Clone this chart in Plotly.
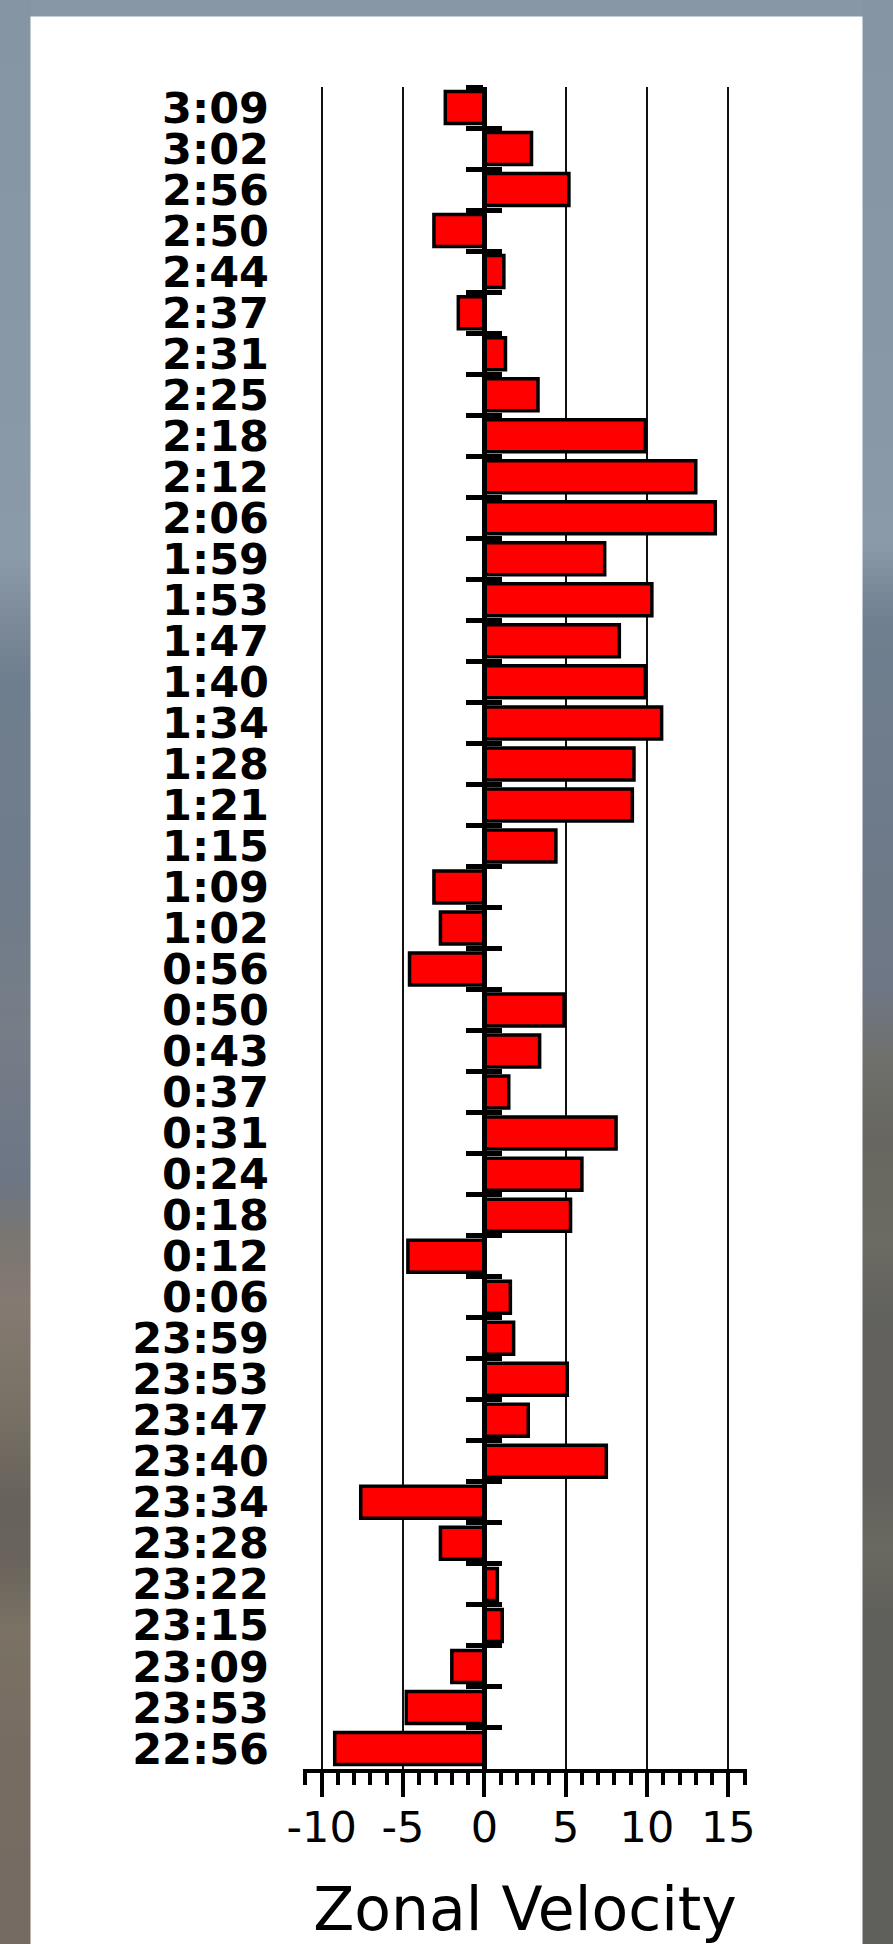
import plotly.graph_objects as go

# Sounding times, listed top to bottom as they appear on the axis
times = ["3:09", "3:02", "2:56", "2:50", "2:44", "2:37", "2:31", "2:25", "2:18",
         "2:12", "2:06", "1:59", "1:53", "1:47", "1:40", "1:34", "1:28", "1:21",
         "1:15", "1:09", "1:02", "0:56", "0:50", "0:43", "0:37", "0:31", "0:24",
         "0:18", "0:12", "0:06", "23:59", "23:53", "23:47", "23:40", "23:34",
         "23:28", "23:22", "23:15", "23:09", "23:53", "22:56"]

# Zonal velocity for each time
velocity = [-2.4, 2.9, 5.2, -3.1, 1.2, -1.6, 1.3, 3.3, 9.9, 13.0, 14.2, 7.4,
            10.3, 8.3, 9.9, 10.9, 9.2, 9.1, 4.4, -3.1, -2.7, -4.6, 4.9, 3.4,
            1.5, 8.1, 6.0, 5.3, -4.7, 1.6, 1.8, 5.1, 2.7, 7.5, -7.6, -2.7,
            0.8, 1.1, -2.0, -4.8, -9.2]

x_ticks = [-10, -5, 0, 5, 10, 15]
x_tick_labels = ["-10", "-5", "0", "5", "10", "15"]
x_range = [-11.15, 16.15]

n = len(times)
rows = [n - 1 - i for i in range(n)]          # first time at the top
row_edges = [r + 0.5 for r in rows]           # separators above each bar
y_range = [-0.5, n - 0.5]

W, H = 893, 1944
ML, MR, MT, MB = 303, 146, 87, 175
PW, PH = W - ML - MR, H - MT - MB


def px_x(px):
    return (px - ML) / PW


def px_y(py):
    return 1 - (py - MT) / PH


def hex_rgb(c):
    c = c.lstrip("#")
    return tuple(int(c[i:i + 2], 16) for i in (0, 2, 4))


def blend(stops, y):
    for (y0, c0), (y1, c1) in zip(stops, stops[1:]):
        if y0 <= y <= y1:
            f = (y - y0) / (y1 - y0) if y1 > y0 else 0
            a, b = hex_rgb(c0), hex_rgb(c1)
            return "rgb(%d,%d,%d)" % tuple(round(a[k] + (b[k] - a[k]) * f) for k in range(3))
    return stops[-1][1]


# soft photographic backdrop behind the white card
left_stops = [(0, "#8595a4"), (380, "#8898a7"), (560, "#8b9aa8"), (620, "#7c8a99"),
              (680, "#6f7e8e"), (860, "#6f7c8b"), (1030, "#757d87"), (1180, "#6c7685"),
              (1240, "#7a7670"), (1300, "#847a72"), (1400, "#7a7266"), (1500, "#67625b"),
              (1560, "#69635b"), (1630, "#7a7264"), (1750, "#776c62"), (1944, "#756b62")]
right_stops = [(0, "#8595a4"), (420, "#8898a7"), (545, "#8b9aa8"), (590, "#7a8999"),
               (625, "#6f7f8f"), (850, "#6e7a89"), (990, "#6e7785"), (1060, "#6f706c"),
               (1140, "#676660"), (1240, "#6c6b62"), (1320, "#62615d"), (1480, "#62615d"),
               (1550, "#6a695f"), (1620, "#5f5f5b"), (1944, "#5f5f5b")]

shapes = []
step = 8
for y0 in range(0, H, step):
    ym = y0 + step / 2
    for (xa, xb, stops) in ((0, 31, left_stops), (862, W, right_stops)):
        shapes.append(dict(type="rect", xref="paper", yref="paper", layer="below",
                           x0=px_x(xa), x1=px_x(xb), y0=px_y(y0 + step), y1=px_y(y0),
                           fillcolor=blend(stops, ym), line=dict(width=0)))
# white card
shapes.append(dict(type="rect", xref="paper", yref="paper", layer="below",
                   x0=px_x(30.5), x1=px_x(862.5), y0=px_y(H + 2), y1=px_y(16.5),
                   fillcolor="white", line=dict(width=0)))

zero_pos = (0 - x_range[0]) / (x_range[1] - x_range[0])

fig = go.Figure()
fig.add_trace(go.Bar(
    x=velocity, y=rows, orientation="h", width=0.78,
    marker=dict(color="#ff0000", line=dict(color="black", width=3.5)),
    showlegend=False, hoverinfo="x",
))
# the y axis at zero carries separator ticks on both sides
for axis_name in ("y2", "y3"):
    fig.add_trace(go.Scatter(x=[], y=[], yaxis=axis_name, mode="markers",
                             showlegend=False, hoverinfo="skip"))

sep_axis = dict(
    overlaying="y", anchor="free", position=zero_pos, side="left",
    range=y_range, tickvals=row_edges, ticklen=17, tickwidth=4.5,
    tickcolor="black", showticklabels=False, showgrid=False, zeroline=False,
    automargin=False,
)

fig.update_layout(
    width=W, height=H,
    margin=dict(l=ML, r=MR, t=MT, b=MB, pad=0, autoexpand=False),
    paper_bgcolor="#8797a6",
    plot_bgcolor="white",
    shapes=shapes,
    xaxis=dict(
        range=x_range, tickvals=x_ticks, ticktext=x_tick_labels,
        ticks="outside", ticklen=24, tickwidth=4, automargin=False,
        tickcolor="black", showline=True, linewidth=4, linecolor="black",
        showgrid=True, gridcolor="#111111", gridwidth=1.5,
        zeroline=True, zerolinecolor="black", zerolinewidth=4.5,
        minor=dict(dtick=1, tick0=0, ticks="outside", ticklen=12, tickwidth=3.5,
                   tickcolor="black", showgrid=False),
        tickfont=dict(family="DejaVu Sans", size=43, color="black"),
        ticklabelstandoff=-7,
        title=dict(text="Zonal Velocity", standoff=42,
                   font=dict(family="DejaVu Sans", size=60, color="black")),
    ),
    yaxis=dict(
        range=y_range, tickvals=rows, ticktext=times, ticks="", showline=False,
        showgrid=False, zeroline=False, ticklabelstandoff=33, automargin=False,
        tickfont=dict(family="DejaVu Sans", size=43, color="black", weight="bold"),
    ),
    yaxis2=dict(sep_axis, ticks="outside", showline=True, linewidth=4.5,
                linecolor="black"),
    yaxis3=dict(sep_axis, ticks="inside", showline=False),
)

fig.write_html("out.html")
